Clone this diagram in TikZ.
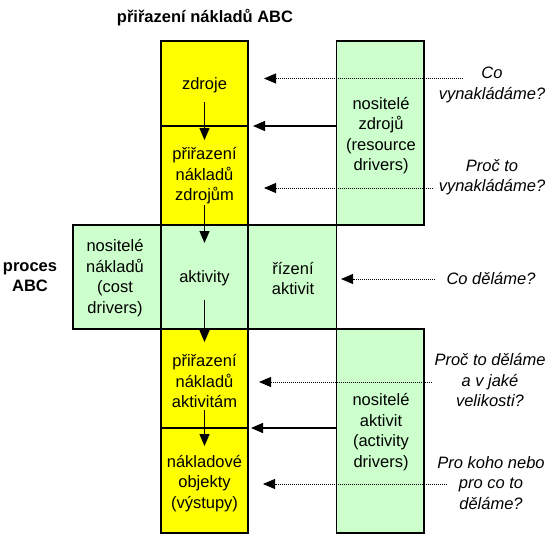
\documentclass[tikz,border=0pt]{standalone}
\usepackage{fontspec}
\setmainfont{Liberation Sans}
\usetikzlibrary{arrows.meta}
\definecolor{ycol}{HTML}{FFFF00}
\definecolor{gcol}{HTML}{CCFFCC}
\begin{document}
\begin{tikzpicture}[x=1pt,y=-1pt,
  txt/.style={font=\fontsize{16.5}{20.5}\selectfont, align=center, inner sep=0pt},
  qtxt/.style={txt, font=\fontsize{16.5}{20.5}\selectfont\itshape},
  btxt/.style={txt, font=\fontsize{16.5}{20.5}\selectfont\bfseries},
  cell/.style={draw=black, line width=1.5pt, inner sep=0pt},
  ycell/.style={cell, fill=ycol},
  gcell/.style={cell, fill=gcol},
  arr/.style={line width=1.3pt, -{Triangle[length=12pt,width=10pt]}},
  darr/.style={line width=0.9pt, dash pattern=on 1pt off 1pt, -{Triangle[length=12pt,width=10pt]}},
]
\useasboundingbox (0,0) rectangle (554,541);
\fill[white] (0,0) rectangle (554,541);

% cells
\node[ycell, minimum width=87pt, minimum height=85pt] (czdr) at (204.5,83.5) {};
\node[ycell, minimum width=87pt, minimum height=99pt] (cprz) at (204.5,175.5) {};
\node[gcell, minimum width=88pt, minimum height=104pt] (cncd) at (117,277) {};
\node[gcell, minimum width=87pt, minimum height=104pt] (cakt) at (204.5,277) {};
\node[gcell, minimum width=88.5pt, minimum height=104pt] (criz) at (292.25,277) {};
\node[gcell, minimum width=87.5pt, minimum height=184pt] (cnz) at (380.25,133) {};
\node[ycell, minimum width=87pt, minimum height=99pt] (cpra) at (204.5,378.5) {};
\node[ycell, minimum width=87pt, minimum height=105pt] (cnob) at (204.5,480.5) {};
\node[gcell, minimum width=87.5pt, minimum height=204pt] (cna) at (380.25,431) {};

% texts
\node[btxt] (title) at (205,18) {přiřazení nákladů ABC};
\node[btxt] (proc) at (30,277) {proces\\ABC};
\node[txt] (tzdr) at (204.5,85) {zdroje};
\node[txt] (tprz) at (204.5,176) {přiřazení\\nákladů\\zdrojům};
\node[txt] (tnz) at (381,135.5) {nositelé\\zdrojů\\(resource\\drivers)};
\node[txt] (tncd) at (115,278) {nositelé\\nákladů\\(cost\\drivers)};
\node[txt] (takt) at (204.5,278) {aktivity};
\node[txt] (triz) at (293,278.5) {řízení\\aktivit};
\node[txt] (tpra) at (204.5,381) {přiřazení\\nákladů\\aktivitám};
\node[txt] (tnob) at (204.5,483.5) {nákladové\\objekty\\(výstupy)};
\node[txt] (tna) at (381,432) {nositelé\\aktivit\\(activity\\drivers)};

\node[qtxt] (q1) at (492,85) {Co\\vynakládáme?};
\node[qtxt] (q2) at (492,177) {Proč to\\vynakládáme?};
\node[qtxt] (q3) at (491,279) {Co děláme?};
\node[qtxt] (q4) at (490,380) {Proč to děláme\\a v jaké\\velikosti?};
\node[qtxt] (q5) at (491,483) {Pro koho nebo\\pro co to\\děláme?};

% coordinates
\coordinate (v1s) at (204.5,102); \coordinate (v1e) at (204.5,140);
\coordinate (v2s) at (204.5,205); \coordinate (v2e) at (204.5,243);
\coordinate (v3s) at (204.5,300); \coordinate (v3e) at (204.5,342);
\coordinate (v4s) at (204.5,410); \coordinate (v4e) at (204.5,446);
\coordinate (d1s) at (463,78.5); \coordinate (d1e) at (264,78.5);
\coordinate (s1e) at (253,126);
\coordinate (d2s) at (433,188); \coordinate (d2e) at (264,188);
\coordinate (d3s) at (435,279); \coordinate (d3e) at (341,279);
\coordinate (d4s) at (432,382); \coordinate (d4e) at (259,382);
\coordinate (s2e) at (251,428);
\coordinate (d5s) at (447,484); \coordinate (d5e) at (263,484);

% vertical arrows
\draw[arr] (v1s) -- (v1e);
\draw[arr] (v2s) -- (v2e);
\draw[arr] (v3s) -- (v3e);
\draw[arr] (v4s) -- (v4e);

% horizontal arrows
\draw[darr] (d1s) -- (d1e);
\draw[arr] (cnz.west |- s1e) -- (s1e);
\draw[darr] (d2s) -- (d2e);
\draw[darr] (d3s) -- (d3e);
\draw[darr] (d4s) -- (d4e);
\draw[arr] (cna.west |- s2e) -- (s2e);
\draw[darr] (d5s) -- (d5e);
\end{tikzpicture}
\end{document}
